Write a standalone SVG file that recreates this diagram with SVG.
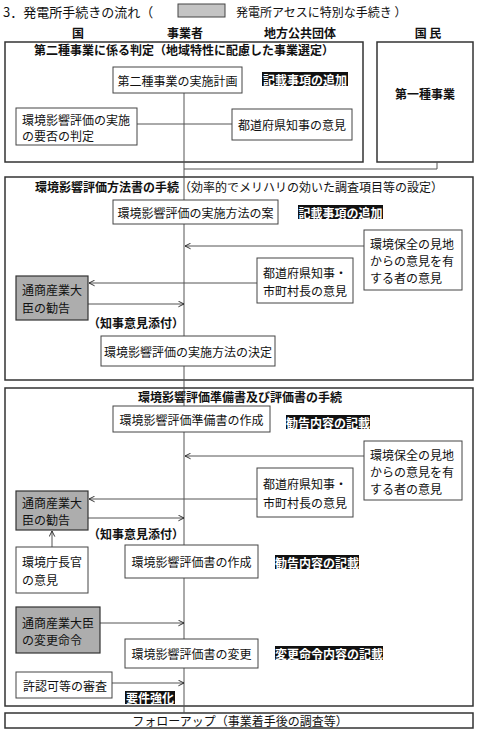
<svg xmlns="http://www.w3.org/2000/svg" width="477" height="733" viewBox="0 0 477 733">
<style>
text{font-family:"Noto Sans CJK JP","Noto Sans CJK SC",sans-serif;font-size:12px;fill:#111;dominant-baseline:central}
.c{text-anchor:middle}
.b{font-weight:bold}
.sec{fill:#fff;stroke:#333;stroke-width:1.5}
.box{fill:#fff;stroke:#444;stroke-width:1}
.gray{fill:#adadad;stroke:#333;stroke-width:1.2}
.lab{fill:#111}
.lt{fill:#fff;font-weight:bold}
.ln{fill:none;stroke:#555;stroke-width:1}
</style>
<defs>
<marker id="ah" viewBox="0 0 10 10" refX="9" refY="5" markerWidth="7" markerHeight="7" orient="auto" markerUnits="userSpaceOnUse">
<path d="M1,1 L9,5 L1,9" fill="none" stroke="#222" stroke-width="1.3"/>
</marker>
</defs>
<rect width="477" height="733" fill="#fff"/>
<g id="title">
<text x="3" y="11" style="font-size:13px">3．発電所手続きの流れ（</text>
<rect x="178" y="4" width="47" height="13" fill="#c4c4c4" stroke="#444" stroke-width="1"/>
<text x="236" y="11">発電所アセスに特別な手続き ）</text>
</g>
<g id="headers">
<text class="c b" x="78" y="32">国</text>
<text class="c b" x="185" y="32">事業者</text>
<text class="c b" x="300" y="32">地方公共団体</text>
<text class="c b" x="428" y="32">国 民</text>
</g>
<g id="section1">
<rect class="sec" x="5" y="42" width="358" height="120"/>
<text class="c b" x="184" y="49">第二種事業に係る判定（地域特性に配慮した事業選定）</text>
</g>
<g id="kokumin">
<rect class="sec" x="377" y="42" width="96" height="120"/>
<text class="c b" x="425" y="93">第一種事業</text>
</g>
<g id="section2">
<rect class="sec" x="5" y="177" width="468" height="203"/>
<text x="35" y="186"><tspan class="b">環境影響評価方法書の手続</tspan>（効率的でメリハリの効いた調査項目等の設定）</text>
</g>
<g id="section3">
<rect class="sec" x="5" y="388" width="468" height="318"/>
<text class="c b" x="240" y="396">環境影響評価準備書及び評価書の手続</text>
</g>
<g id="followup">
<rect class="sec" x="5" y="713" width="468" height="15"/>
<text class="c" x="240" y="720.5">フォローアップ（事業着手後の調査等）</text>
</g>
<g id="connectors">
<path class="ln" d="M184,93 V713"/>
<path class="ln" d="M184,169 H437 V162"/>
<path class="ln" d="M137,124 H232"/>
<path class="ln" d="M364,246 H185" marker-end="url(#ah)"/>
<path class="ln" d="M257,283 H89" marker-end="url(#ah)"/>
<path class="ln" d="M88,304 H184" marker-end="url(#ah)"/>
<path class="ln" d="M364,456 H185" marker-end="url(#ah)"/>
<path class="ln" d="M257,499 H89" marker-end="url(#ah)"/>
<path class="ln" d="M88,518 H184" marker-end="url(#ah)"/>
<path class="ln" d="M52,547 V531" marker-end="url(#ah)"/>
<path class="ln" d="M100,623 H184" marker-end="url(#ah)"/>
<path class="ln" d="M112,683 H184" marker-end="url(#ah)"/>
</g>
<g id="n-plan2">
<rect class="box" x="113" y="67" width="129" height="26"/>
<text class="c" x="177.5" y="80">第二種事業の実施計画</text>
</g>
<g id="l-add1">
<rect class="lab" x="262" y="72" width="86" height="14"/>
<text class="c lt" x="305" y="79">記載事項の追加</text>
</g>
<g id="n-judge">
<rect class="box" x="16" y="108" width="121" height="37"/>
<text x="22" y="119">環境影響評価の実施</text>
<text x="22" y="135">の要否の判定</text>
</g>
<g id="n-gov1">
<rect class="box" x="232" y="109" width="120" height="31"/>
<text class="c" x="292" y="124.5">都道府県知事の意見</text>
</g>
<g id="n-draft">
<rect class="box" x="113" y="200" width="165" height="24"/>
<text class="c" x="195.5" y="212">環境影響評価の実施方法の案</text>
</g>
<g id="l-add2">
<rect class="lab" x="298" y="205" width="85" height="14"/>
<text class="c lt" x="340.5" y="212">記載事項の追加</text>
</g>
<g id="n-public1">
<rect class="box" x="364" y="230" width="98" height="60"/>
<text x="370" y="243">環境保全の見地</text>
<text x="370" y="260">からの意見を有</text>
<text x="370" y="277">する者の意見</text>
</g>
<g id="n-gov2">
<rect class="box" x="257" y="258" width="96" height="45"/>
<text x="263" y="272">都道府県知事・</text>
<text x="263" y="290">市町村長の意見</text>
</g>
<g id="n-miti1">
<rect class="gray" x="16" y="276" width="72" height="44"/>
<text x="22" y="289">通商産業大</text>
<text x="22" y="307">臣の勧告</text>
</g>
<text class="b" x="88" y="322">（知事意見添付）</text>
<g id="n-decide">
<rect class="box" x="101" y="336" width="174" height="30"/>
<text class="c" x="188" y="351">環境影響評価の実施方法の決定</text>
</g>
<g id="n-prep">
<rect class="box" x="113" y="406" width="157" height="26"/>
<text class="c" x="191.5" y="419">環境影響評価準備書の作成</text>
</g>
<g id="l-rec1">
<rect class="lab" x="286" y="415" width="84" height="14"/>
<text class="c lt" x="328" y="422">勧告内容の記載</text>
</g>
<g id="n-public2">
<rect class="box" x="364" y="441" width="98" height="59"/>
<text x="370" y="454">環境保全の見地</text>
<text x="370" y="471">からの意見を有</text>
<text x="370" y="488">する者の意見</text>
</g>
<g id="n-gov3">
<rect class="box" x="257" y="468" width="96" height="49"/>
<text x="263" y="483">都道府県知事・</text>
<text x="263" y="502">市町村長の意見</text>
</g>
<g id="n-miti2">
<rect class="gray" x="16" y="491" width="72" height="39"/>
<text x="22" y="502">通商産業大</text>
<text x="22" y="519">臣の勧告</text>
</g>
<text class="b" x="88" y="533">（知事意見添付）</text>
<g id="n-env">
<rect class="box" x="16" y="547" width="72" height="46"/>
<text x="22" y="561">環境庁長官</text>
<text x="22" y="579">の意見</text>
</g>
<g id="n-eval">
<rect class="box" x="125" y="545" width="133" height="33"/>
<text class="c" x="191.5" y="561.5">環境影響評価書の作成</text>
</g>
<g id="l-rec2">
<rect class="lab" x="275" y="555" width="84" height="14"/>
<text class="c lt" x="317" y="562">勧告内容の記載</text>
</g>
<g id="n-miti3">
<rect class="gray" x="16" y="607" width="84" height="46"/>
<text x="22" y="622">通商産業大臣</text>
<text x="22" y="639">の変更命令</text>
</g>
<g id="n-change">
<rect class="box" x="125" y="639" width="133" height="29"/>
<text class="c" x="191.5" y="653.5">環境影響評価書の変更</text>
</g>
<g id="l-chg">
<rect class="lab" x="275" y="646" width="108" height="14"/>
<text class="c lt" x="329" y="653">変更命令内容の記載</text>
</g>
<g id="n-permit">
<rect class="box" x="16" y="672" width="96" height="26"/>
<text x="23" y="685">許認可等の審査</text>
</g>
<g id="l-req">
<rect class="lab" x="125" y="691" width="50" height="13"/>
<text class="c lt" x="150" y="697.5">要件強化</text>
</g>
</svg>
